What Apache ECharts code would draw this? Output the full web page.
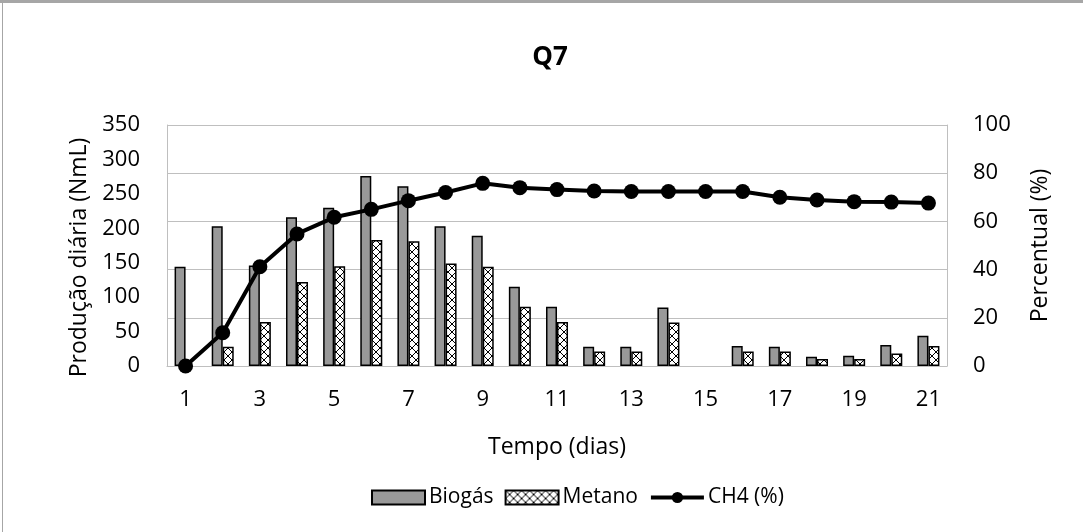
<!DOCTYPE html>
<html>
<head>
<meta charset="utf-8">
<script src="https://cdn.jsdelivr.net/npm/echarts@6/dist/echarts.min.js"></script>
<style>
html,body{margin:0;padding:0;background:#fff;}
#chart{width:1083px;height:532px;}
</style>
</head>
<body>
<div id="chart"></div>
<script>
const days = ['1','2','3','4','5','6','7','8','9','10','11','12','13','14','15','16','17','18','19','20','21'];
const biogas = [144, 203, 146, 216, 230, 276, 261, 203, 189, 115, 86, 28, 28, 85, null, 29, 28, 13.5, 15, 30.5, 44];
const metano = [null, 28, 64, 122, 145, 183, 181, 149, 144, 86, 64, 21, 21, 63, null, 21, 21, 10, 10, 18, 29];
const ch4 = [0, 13.8, 41.2, 54.8, 61.7, 65, 68.6, 72, 75.8, 74, 73.2, 72.6, 72.4, 72.4, 72.4, 72.4, 70, 68.9, 68.2, 68, 67.6];

const FONT = '"Open Sans", sans-serif';

// crosshatch pattern for Metano
const pc = document.createElement('canvas');
pc.width = 8; pc.height = 8;
const g = pc.getContext('2d');
g.fillStyle = '#ffffff'; g.fillRect(0,0,8,8);
g.strokeStyle = '#000000'; g.lineWidth = 1;
g.beginPath(); g.moveTo(0,0); g.lineTo(8,8); g.moveTo(8,0); g.lineTo(0,8); g.stroke();

const chart = echarts.init(document.getElementById('chart'), null, {renderer:'canvas'});
chart.setOption({
  backgroundColor: '#ffffff',
  animation: false,
  textStyle: {fontFamily: FONT},
  title: {
    text: 'Q7', left: 545, top: 40, textAlign: 'center',
    textStyle: {fontFamily: FONT, fontSize: 26, fontWeight: 'bold', color: '#000'}
  },
  graphic: [
    {type:'rect', shape:{x:0,y:0,width:1083,height:3}, style:{fill:'#a6a6a6'}, silent:true},
    {type:'rect', shape:{x:2,y:0,width:1,height:532}, style:{fill:'#a6a6a6'}, silent:true}
  ],
  legend: {
    left: 366, top: 482,
    itemWidth: 53, itemHeight: 14, itemGap: 11,
    textStyle: {fontFamily: FONT, fontSize: 21, color: '#000', padding:[0,0,0,-1]},
    data: [
      {name:'Biogás', icon:'rect'},
      {name:'Metano', icon:'rect'},
      {name:'CH4 (%)', lineStyle: {width: 4, color: '#000'}}
    ]
  },
  grid: {left: 167, right: 136, top: 125, bottom: 166, containLabel: false},
  xAxis: {
    type: 'category', data: days,
    name: 'Tempo (dias)', nameLocation: 'middle', nameGap: 70,
    nameTextStyle: {fontFamily: FONT, fontSize: 23, color: '#000'},
    axisLine: {lineStyle: {color: '#bfbfbf', width: 1}},
    axisTick: {show: false},
    axisLabel: {interval: 1, margin: 23, fontFamily: FONT, fontSize: 22, color: '#000'}
  },
  yAxis: [
    {
      type: 'value', min: 0, max: 350, interval: 50, position: 'left',
      name: 'Produção diária (NmL)', nameLocation: 'middle', nameGap: 68,
      nameTextStyle: {fontFamily: FONT, fontSize: 23, color: '#000', padding: [0, 24, 0, 0]},
      axisLine: {show: true, lineStyle: {color: '#bfbfbf'}},
      axisTick: {show: false},
      splitLine: {show: false},
      axisLabel: {margin: 27, fontFamily: FONT, fontSize: 22, color: '#000'}
    },
    {
      type: 'value', min: 0, max: 100, interval: 20, position: 'right',
      name: 'Percentual (%)', nameLocation: 'middle', nameGap: 82,
      nameRotate: 90,
      nameTextStyle: {fontFamily: FONT, fontSize: 23, color: '#000'},
      axisLine: {show: true, lineStyle: {color: '#bfbfbf'}},
      axisTick: {show: false},
      splitLine: {show: true, lineStyle: {color: '#bfbfbf', width: 1}},
      axisLabel: {margin: 26, fontFamily: FONT, fontSize: 22, color: '#000'}
    }
  ],
  series: [
    {
      name: 'Biogás', type: 'bar', yAxisIndex: 0, data: biogas,
      barWidth: 11, barGap: '0%',
      itemStyle: {color: '#999999', borderColor: '#000', borderWidth: 1.5}
    },
    {
      name: 'Metano', type: 'bar', yAxisIndex: 0, data: metano,
      barWidth: 11, barGap: '0%',
      itemStyle: {color: {image: pc, repeat: 'repeat'}, borderColor: '#000', borderWidth: 1.5}
    },
    {
      name: 'CH4 (%)', type: 'line', yAxisIndex: 1, data: ch4,
      symbol: 'circle', symbolSize: 15,
      lineStyle: {color: '#000', width: 4},
      itemStyle: {color: '#000'},
      z: 5
    }
  ]
});
</script>
</body>
</html>
